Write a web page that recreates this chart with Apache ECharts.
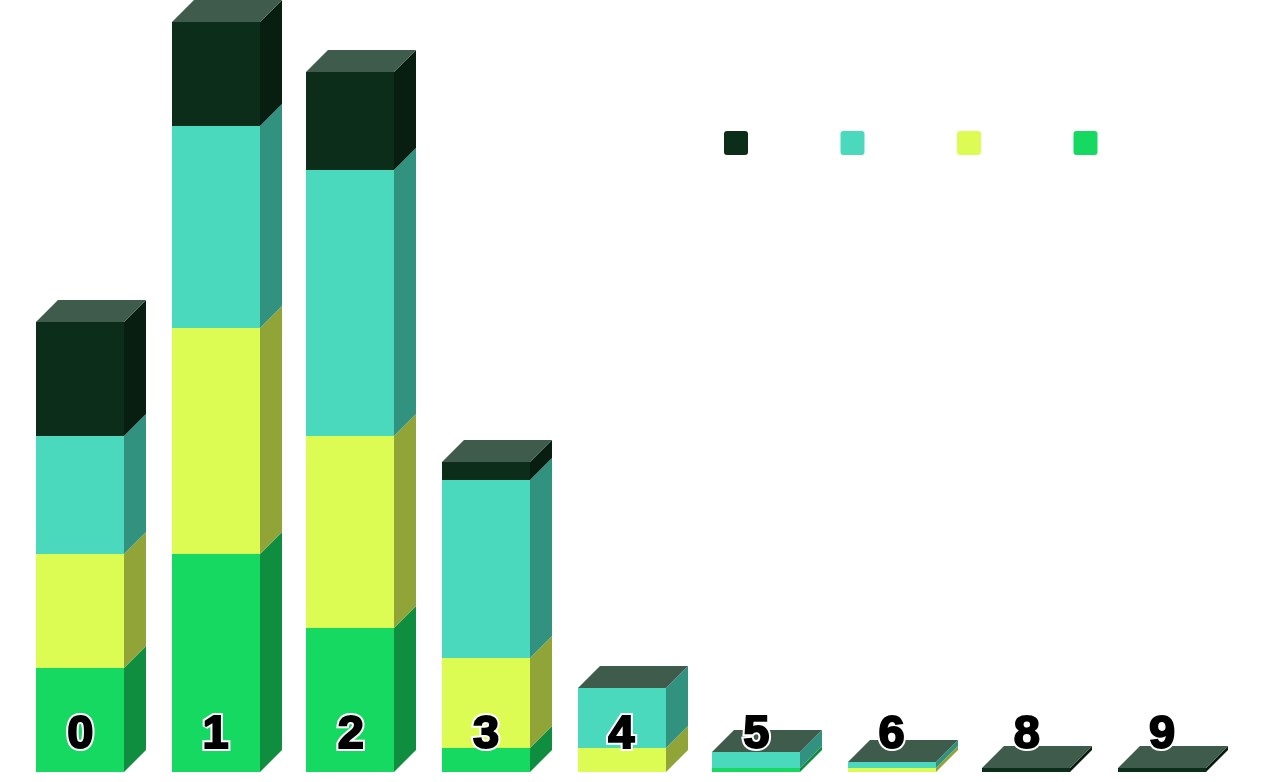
<!DOCTYPE html>
<html>
<head>
<meta charset="utf-8">
<style>html,body{margin:0;padding:0;background:#fff}#c{width:1264px;height:782px}</style>
<script src="https://cdn.jsdelivr.net/npm/echarts@6/dist/echarts.min.js"></script>
</head>
<body>
<div id="c"></div>
<script>
const categories = ['0','1','2','3','4','5','6','8','9'];
const green  = [52,109,72,12,0,2,0,0,0];
const yellow = [57,113,96,45,12,0,2,0,0];
const teal   = [59,101,133,89,30,8,3,0,0];
const dark   = [57,52,49,9,0,0,0,2,2];
const layers = [
  {name:'A', values:green,  color:'#16d961', side:'#0f8e40'},
  {name:'B', values:yellow, color:'#dcfc53', side:'#91a437'},
  {name:'C', values:teal,   color:'#4bd9bd', side:'#329280'},
  {name:'D', values:dark,   color:'#0b2d19', side:'#071e10', top:'#3f5b4c'}
];
const legendOrder = ['D','C','B','A'];
const BAR = 88, DEPTH = 22;

const totals = categories.map(()=>0);
const series = layers.map(function(l){
  const data = l.values.map(function(v,i){
    const row = [i, totals[i], totals[i]+v];
    totals[i] += v;
    return row;
  });
  return {
    type:'custom', name:l.name, data:data,
    encode:{x:0,y:[1,2]},
    itemStyle:{color:l.color},
    silent:true,
    clip:false,
    renderItem:function(params,api){
      const lo = api.coord([api.value(0),api.value(1)]);
      const hi = api.coord([api.value(0),api.value(2)]);
      const x0 = 2*Math.round((lo[0]-BAR/2)/2), x1 = x0+BAR;
      const y0 = Math.round(lo[1]), y1 = Math.round(hi[1]);
      const kids = [];
      if (y0-y1 > 0) {
        kids.push({type:'polygon',shape:{points:[[x1,y1],[x1+DEPTH,y1-DEPTH],[x1+DEPTH,y0-DEPTH],[x1,y0]]},style:{fill:l.side}});
        kids.push({type:'rect',shape:{x:x0,y:y1,width:BAR,height:y0-y1},style:{fill:l.color}});
      }
      if (l.top) {
        kids.push({type:'polygon',shape:{points:[[x0,y1],[x0+DEPTH,y1-DEPTH],[x1+DEPTH,y1-DEPTH],[x1,y1]]},style:{fill:l.top}});
      }
      return {type:'group',children:kids};
    }
  };
});

function labelAxis(z,borderColor,borderWidth){
  return {
    type:'category',data:categories,z:z,position:'bottom',
    axisLine:{show:false},axisTick:{show:false},splitLine:{show:false},
    axisLabel:{
      inside:true,margin:13,interval:0,
      fontFamily:'"Liberation Sans",Arial,sans-serif',fontWeight:'bold',fontSize:47,
      color:'#000',textBorderColor:borderColor,textBorderWidth:borderWidth
    }
  };
}

const chart = echarts.init(document.getElementById('c'),null,{renderer:'canvas'});
chart.setOption({
  animation:false,
  backgroundColor:'#ffffff',
  grid:{left:12.6,right:34.2,top:0,bottom:10},
  legend:{
    data:legendOrder,
    left:724,top:131,
    itemWidth:24,itemHeight:24,itemGap:92.5,
    icon:'path://M3 0H21A3 3 0 0 1 24 3V21A3 3 0 0 1 21 24H3A3 3 0 0 1 0 21V3A3 3 0 0 1 3 0Z',
    formatter:function(){return '';},
    textStyle:{padding:0},
    padding:0,
    selectedMode:false
  },
  xAxis:[labelAxis(10,'#fff',6),labelAxis(11,'#000',2)],
  yAxis:{type:'value',min:0,max:386,show:false,splitLine:{show:false}},
  series:series
});
</script>
</body>
</html>
